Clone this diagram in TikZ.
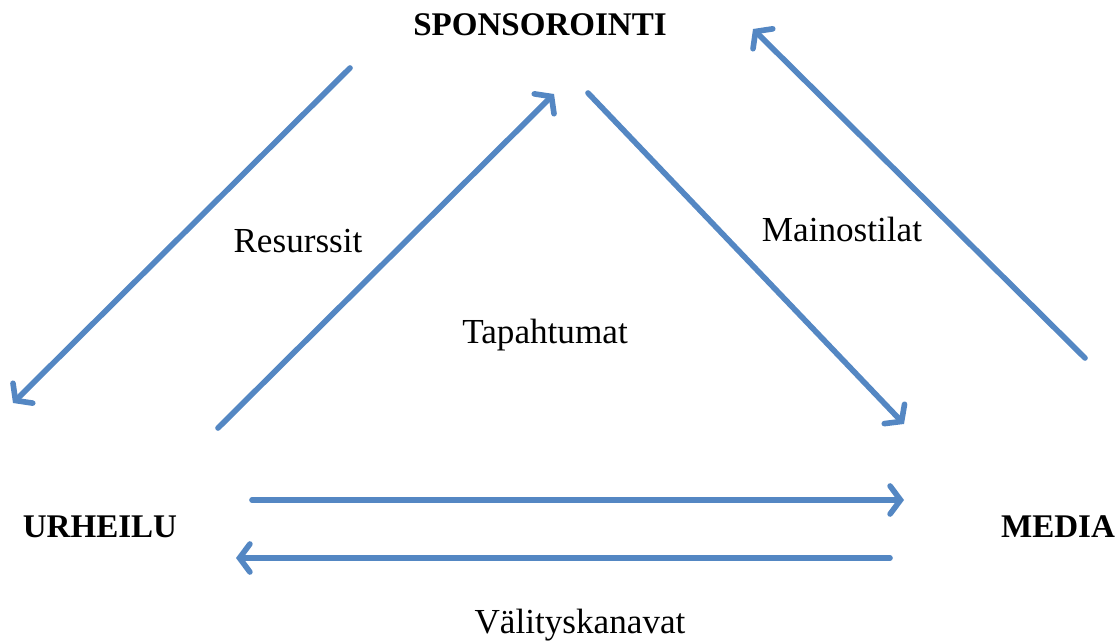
\documentclass[tikz,border=0pt]{standalone}
\usepackage{fontspec}
\setmainfont{Liberation Serif}
\usetikzlibrary{arrows.meta}
\definecolor{flowblue}{RGB}{84,135,195}
\tikzset{
  flow/.style={draw=flowblue, line width=4pt, line cap=round,
    -{Straight Barb[length=2.6mm, width=7mm, line cap=round]}},
  actor/.style={font=\fontsize{23.5}{27}\selectfont\bfseries},
  flowlabel/.style={font=\fontsize{25}{29}\selectfont}
}
\begin{document}
\begin{tikzpicture}[x=0.025cm, y=-0.025cm]
  \useasboundingbox (0,0) rectangle (1120,643);
  \draw
    (540,25) node[actor] (spons){SPONSOROINTI}
    (100,527) node[actor] (urh){URHEILU}
    (1058,527) node[actor] (media){MEDIA}
    (298,241) node[flowlabel] (res){Resurssit}
    (842,229) node[flowlabel] (mai){Mainostilat}
    (545,335) node[flowlabel] (tap){Tapahtumat}
    (580,625) node[flowlabel] (val){Välityskanavat};
  \coordinate (res1) at (350,68);
  \coordinate (res2) at (13,403);
  \coordinate (tap1) at (218,428);
  \coordinate (tap2) at (554,94);
  \coordinate (mai1) at (588,93);
  \coordinate (mai2) at (904,424);
  \coordinate (ret1) at (1085,358);
  \coordinate (ret2) at (753,29);
  \coordinate (val1) at (252,500);
  \coordinate (val2) at (904,500);
  \coordinate (val3) at (890,558);
  \coordinate (val4) at (236,558);
  \begin{scope}[flow]
    \draw (res1) to (res2);
    \draw (tap1) to (tap2);
    \draw (mai1) to (mai2);
    \draw (ret1) to (ret2);
    \draw (val1) to (val2);
    \draw (val3) to (val4);
  \end{scope}
\end{tikzpicture}
\end{document}
